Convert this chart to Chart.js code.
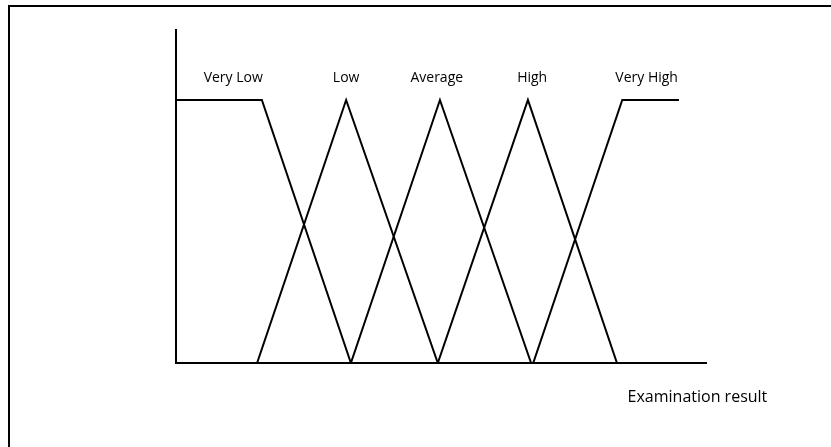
<!DOCTYPE html>
<html>
<head>
<meta charset="utf-8">
<script src="https://cdn.jsdelivr.net/npm/chart.js@4.4.1/dist/chart.umd.min.js"></script>
<style>
  html, body { margin: 0; padding: 0; background: #fff; }
  #frame {
    position: absolute; left: 8px; top: 5px; width: 823px; height: 442px;
    border-top: 2px solid #000; border-left: 2px solid #000; box-sizing: border-box;
  }
  #wrap { position: absolute; left: 0; top: 0; width: 831px; height: 447px; }
</style>
</head>
<body>
<div id="frame"></div>
<div id="wrap"><canvas id="grafico" width="831" height="447"></canvas></div>
<script>
// membership functions (x in examination result units, y = membership degree)
const veryLowX = [0, 16.2, 33.0];
const veryLowY = [1, 1, 0];
const lowX = [15.3, 32.1, 49.4];
const lowY = [0, 1, 0];
const averageX = [33.0, 49.8, 67.0];
const averageY = [0, 1, 0];
const highX = [49.4, 66.4, 83.2];
const highY = [0, 1, 0];
const veryHighX = [67.4, 84.2, 94.9];
const veryHighY = [0, 1, 1];

const termLabels = ['Very Low', 'Low', 'Average', 'High', 'Very High'];
const termLabelX = [10.8, 32.1, 49.2, 67.2, 88.8];
const termLabelY = 1.085;
const axisTitle = 'Examination result';

const series = [
    [veryLowX, veryLowY],
    [lowX, lowY],
    [averageX, averageY],
    [highX, highY],
    [veryHighX, veryHighY]
];

const textos = {
    id: 'textos',
    afterDraw(chart) {
        const ctx = chart.ctx;
        const xs = chart.scales.x;
        const ys = chart.scales.y;
        ctx.save();
        ctx.fillStyle = '#000';
        ctx.textAlign = 'center';
        ctx.textBaseline = 'middle';
        ctx.font = '14px "Open Sans", sans-serif';
        termLabels.forEach((t, i) => {
            ctx.fillText(t, xs.getPixelForValue(termLabelX[i]), ys.getPixelForValue(termLabelY));
        });
        ctx.font = '16px "Open Sans", sans-serif';
        ctx.textAlign = 'left';
        ctx.fillText(axisTitle, xs.getPixelForValue(85.2), ys.bottom + 34);
        ctx.restore();
    }
};

new Chart(document.getElementById('grafico').getContext('2d'), {
    type: 'scatter',
    data: {
        datasets: series.map((s, i) => ({
            label: termLabels[i],
            data: s[0].map((x, j) => ({ x: x, y: s[1][j] })),
            showLine: true,
            borderColor: '#000',
            borderWidth: 2,
            pointRadius: 0,
            fill: false,
            tension: 0
        }))
    },
    options: {
        responsive: false,
        animation: false,
        layout: { padding: { left: 176, top: 30, right: 125, bottom: 84 } },
        plugins: { legend: { display: false }, tooltip: { enabled: false } },
        scales: {
            x: {
                type: 'linear', min: 0, max: 100,
                grid: { display: false, drawTicks: false },
                ticks: { display: false },
                border: { display: true, color: '#000', width: 2 }
            },
            y: {
                type: 'linear', min: 0, max: 1.266,
                grid: { display: false, drawTicks: false },
                ticks: { display: false },
                border: { display: true, color: '#000', width: 2 }
            }
        }
    },
    plugins: [textos]
});
</script>
</body>
</html>
